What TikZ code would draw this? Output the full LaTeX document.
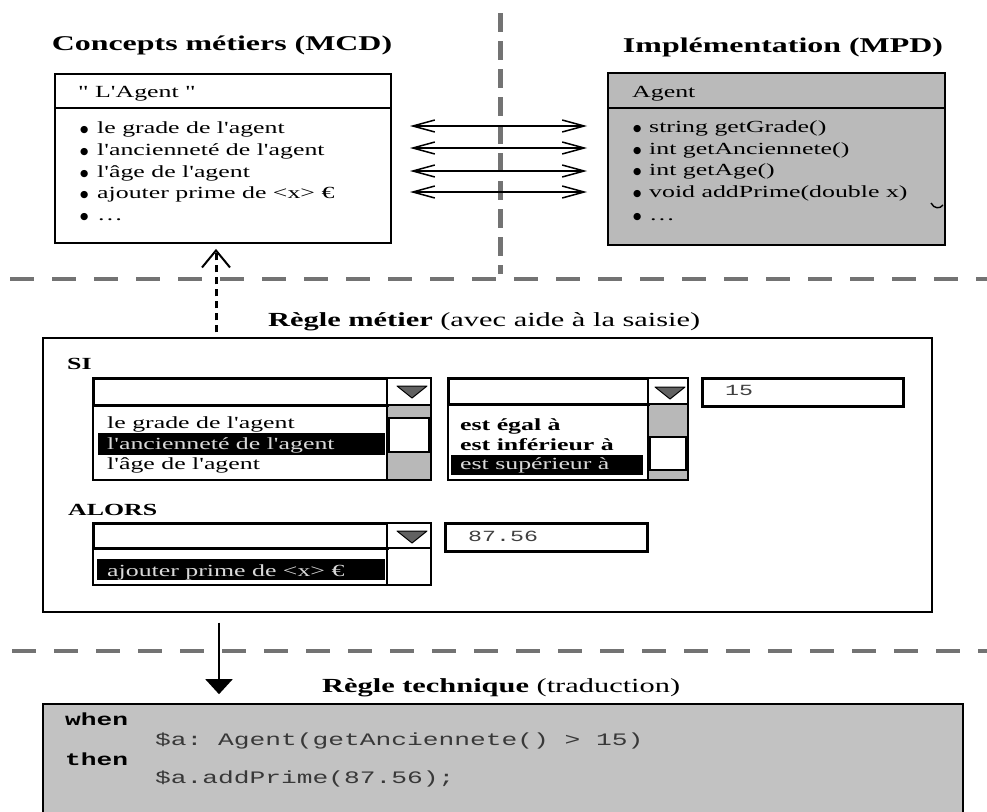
\documentclass[tikz,border=0pt]{standalone}
\usepackage{fontspec}
\setmainfont{Liberation Serif}[Ligatures=TeXOff,FakeStretch=1.52]
\setmonofont{Liberation Mono}[FakeStretch=1.5]
\newfontfamily\symfont{DejaVu Sans}
\usetikzlibrary{arrows.meta}
\newcommand\bulmark[1]{\makebox[#1][l]{\hspace{2pt}\raisebox{1pt}{\fontsize{9.5}{10}\symfont ●}}}
\begin{document}
\begin{tikzpicture}[x=1pt,y=-1pt,
  every node/.style={inner sep=0pt},
  tx/.style={anchor=base west,font=\fontsize{17}{20}\selectfont},
  txb/.style={anchor=base west,font=\fontsize{17}{20}\selectfont\bfseries},
  hl/.style={anchor=base west,font=\fontsize{17}{20}\selectfont,text=black!15},
  ttl/.style={anchor=base,font=\fontsize{21}{25}\selectfont\bfseries},
  ttl2/.style={anchor=base west,font=\fontsize{20}{24}\selectfont},
  code/.style={anchor=base west,font=\fontsize{17.5}{20}\selectfont\ttfamily,text=black!78},
  codeb/.style={anchor=base west,font=\fontsize{17.5}{20}\selectfont\ttfamily\bfseries},
  fldtx/.style={anchor=base west,font=\fontsize{15.5}{18}\selectfont\ttfamily,text=black!75},
  sepline/.style={draw=black!55,line width=4pt,dash pattern=on 24pt off 18pt},
  vsepline/.style={draw=black!55,line width=5pt,dash pattern=on 19pt off 9pt},
  dbl/.style={line width=1.5pt,{Straight Barb[length=22pt,width=12pt]}-{Straight Barb[length=22pt,width=12pt]}},
  dotarr/.style={line width=3pt,dash pattern=on 7pt off 5pt,-{Straight Barb[length=17pt,width=28pt,line width=2pt]}},
  downarr/.style={line width=2pt,-{Triangle[length=15pt,width=27pt]}},
  field/.style={draw,line width=3pt,fill=white},
  thinbox/.style={draw,line width=1.4pt,fill=white},
  sgray/.style={fill=black!28},
  tri/.style={draw,line width=1pt,fill=black!62,line join=round},
  bar/.style={fill=black}
]
\useasboundingbox (0,0) rectangle (987,811);
\clip (0,0) rectangle (987,811);

% separators
\draw[vsepline] (500,13) -- (500,274);
\draw[sepline] (10,279) -- (987,279);
\draw[sepline] (12,651) -- (987,651);

% titles
\node[ttl] (tmcd) at (222,50) {Concepts métiers (MCD)};
\node[ttl] (tmpd) at (783,52) {Implémentation (MPD)};
\node[ttl2] (tmid) at (268,326) {{\bfseries Règle métier} (avec aide à la saisie)};
\node[ttl2] (ttech) at (322,692) {{\bfseries Règle technique} (traduction)};

% MCD box
\node[draw,line width=1.8pt,minimum width=336pt,minimum height=169pt] (mcd) at (223,158.5) {};
\draw[line width=1.8pt] (mcd.west |- 0,108) -- (mcd.east |- 0,108);
\node[tx] (h1) at (78,97) {" L'Agent "};
\node[tx] (l1) at (78,133) {\bulmark{19pt}le grade de l'agent};
\node[tx] (l2) at (78,155) {\bulmark{19pt}l'ancienneté de l'agent};
\node[tx] (l3) at (78,177) {\bulmark{19pt}l'âge de l'agent};
\node[tx] (l4) at (78,198) {\bulmark{19pt}ajouter prime de <x> €};
\node[tx] (l5) at (78,220) {\bulmark{19pt}…};

% MPD box
\node[draw,fill=black!27,line width=1.8pt,minimum width=337pt,minimum height=172pt] (mpd) at (776.5,159) {};
\draw[line width=1.8pt] (mpd.west |- 0,108) -- (mpd.east |- 0,108);
\node[tx] (h2) at (632,97) {Agent};
\node[tx] (r1) at (631,132) {\bulmark{18pt}string getGrade()};
\node[tx] (r2) at (631,154) {\bulmark{18pt}int getAnciennete()};
\node[tx] (r3) at (631,175) {\bulmark{18pt}int getAge()};
\node[tx] (r4) at (631,197) {\bulmark{18pt}void addPrime(double x)};
\node[tx] (r5) at (631,220) {\bulmark{18pt}…};
\draw[line width=1.4pt] (931,203) .. controls (934,209) and (940,209) .. (943,205);

% mapping arrows
\coordinate (aL1) at (410,126); \coordinate (aR1) at (587,126);
\coordinate (aL2) at (410,148); \coordinate (aR2) at (587,148);
\coordinate (aL3) at (410,171); \coordinate (aR3) at (587,171);
\coordinate (aL4) at (410,192); \coordinate (aR4) at (587,192);
\draw[dbl] (aL1) -- (aR1);
\draw[dbl] (aL2) -- (aR2);
\draw[dbl] (aL3) -- (aR3);
\draw[dbl] (aL4) -- (aR4);

% middle box
\node[draw,line width=1.3pt,minimum width=889pt,minimum height=274pt] (mid) at (487.5,475) {};
\draw[dotarr,shorten <=5pt,shorten >=5pt] (mid.north -| 216,0) -- (mcd.south -| 216,0);

\node[txb] (si) at (67,369) {SI};
\node[txb] (alors) at (68,515) {ALORS};

% combo 1
\draw[thinbox] (93,405) rectangle (387,480);
\fill[sgray] (387,405) rectangle (431,480);
\draw[line width=1.4pt] (387,405) rectangle (431,480);
\draw[line width=2pt,fill=white] (389,418) rectangle (429,452);
\draw[field] (93,378) rectangle (387,405);
\draw[thinbox] (387,378) rectangle (431,405);
\draw[tri] (397,386) -- (427,386) -- (412,398) -- cycle;
\fill[bar] (98,433) rectangle (385,455);
\node[tx] (o1) at (107,428) {le grade de l'agent};
\node[hl] (o2) at (107,449) {l'ancienneté de l'agent};
\node[tx] (o3) at (107,469) {l'âge de l'agent};

% combo 2
\draw[thinbox] (448,404) rectangle (648,480);
\fill[sgray] (648,404) rectangle (688,480);
\draw[line width=1.4pt] (648,404) rectangle (688,480);
\draw[line width=2pt,fill=white] (650,437) rectangle (686,470);
\draw[field] (448,378) rectangle (648,404);
\draw[thinbox] (648,378) rectangle (688,404);
\draw[tri] (655,387) -- (685,387) -- (670,399) -- cycle;
\fill[bar] (451,455) rectangle (643,475);
\node[txb] (p1) at (460,430) {est égal à};
\node[txb] (p2) at (460,450) {est inférieur à};
\node[hl] (p3) at (460,469) {est supérieur à};

% value field 15
\draw[field] (702,378) rectangle (903,406);
\node[fldtx] (v1) at (725,395) {15};

% combo 3
\draw[thinbox] (93,548) rectangle (387,585);
\draw[line width=2pt,fill=white] (387,548) rectangle (431,585);
\draw[field] (93,523) rectangle (387,548);
\draw[thinbox] (387,523) rectangle (431,548);
\draw[tri] (397,531) -- (427,531) -- (412,543) -- cycle;
\fill[bar] (97,559) rectangle (385,580);
\node[hl] (q1) at (107,576) {ajouter prime de <x> €};

% value field 87.56
\draw[field] (445,523) rectangle (647,551);
\node[fldtx] (v2) at (468,541) {87.56};

% technical rule box
\node[draw,fill=black!24,line width=1.6pt,minimum width=920pt,minimum height=130pt] (tech) at (503,769) {};
\draw[downarr,shorten <=10pt,shorten >=9pt] (mid.south -| 219,0) -- (tech.north -| 219,0);
\node[codeb] (k1) at (65,725) {when};
\node[code] (k2) at (155,745) {\$a: Agent(getAnciennete() > 15)};
\node[codeb] (k3) at (65,765) {then};
\node[code] (k4) at (155,783) {\$a.addPrime(87.56);};
\end{tikzpicture}
\end{document}
